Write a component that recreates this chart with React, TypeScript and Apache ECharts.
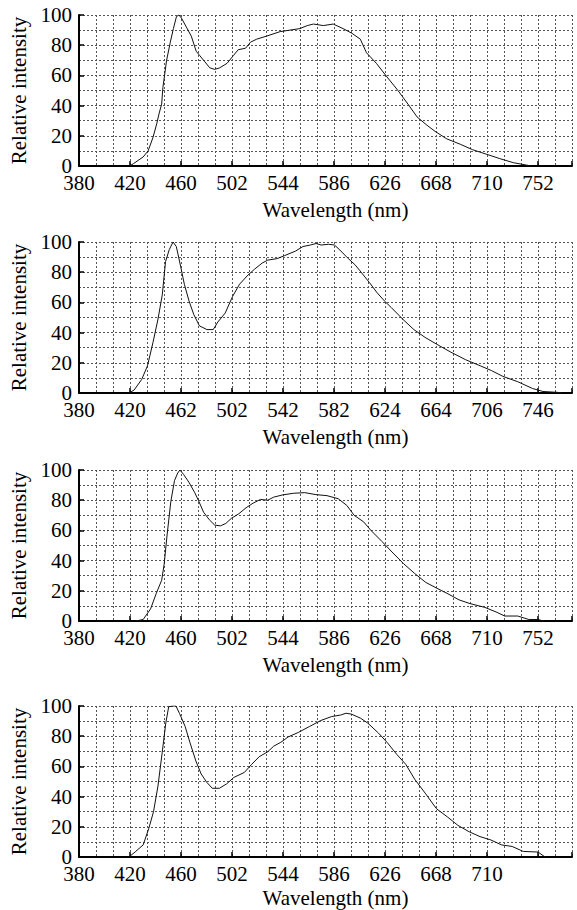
import { useEffect, useRef } from 'react';
import * as echarts from 'echarts';

// ---- Data ----
// Tick label texts on each panel's x axis (one label every 3 grid cells)
const xLabels1 = ['380', '420', '460', '502', '544', '586', '626', '668', '710', '752'];
const xLabels2 = ['380', '420', '462', '502', '542', '582', '624', '664', '706', '746'];
const xLabels3 = ['380', '420', '460', '502', '544', '586', '626', '668', '710', '752'];
const xLabels4 = ['380', '420', '460', '502', '544', '586', '626', '668', '710'];

// Wavelength that sits at the 10th label position (27 grid cells from 380)
const labelEnd = [752, 746, 752, 752];

// Spectra: [wavelength nm, relative intensity]
const spectrum1 = [
  [421, 0], [424, 1.5], [432, 6], [436, 10], [440, 19], [443, 28], [445, 35], [447, 41],
  [448, 52], [451, 70], [454, 82], [456.5, 91], [459, 99], [461, 100], [463, 98], [467, 92],
  [471, 86], [475, 76], [478, 73], [482, 69], [486, 65], [490, 64], [494, 65], [500, 68],
  [505, 73], [509, 77], [515, 78], [519, 82], [524, 84], [532, 86], [543, 89], [551, 90],
  [559, 91], [565, 93], [570, 94], [578, 93], [586, 94], [594, 91], [601, 88], [608, 84],
  [613, 75], [621, 68], [629.6, 59], [638.5, 50], [646.6, 41], [654, 32.5], [662, 27],
  [668.5, 23], [678, 18], [689, 14.4], [699, 10.8], [710.6, 7.7], [721, 4.9], [732, 2.2],
  [744, 0.4], [746, 0],
];

const spectrum2 = [
  [420, 0], [424, 2], [430, 9], [434.6, 18], [439, 33.5], [443, 49], [446.4, 65], [449, 87],
  [452, 95], [455, 100], [457.6, 97], [461, 84], [464, 72], [467.7, 61], [471.5, 52],
  [476, 44.5], [482, 42], [487, 42], [490.7, 47], [496.6, 53], [502.5, 64], [508, 72],
  [514, 77.5], [520, 82], [526, 86], [530.5, 88], [538, 89], [544, 91], [552.7, 94],
  [558.6, 97], [564.5, 98], [569, 99], [573, 98], [579, 98.5], [583.7, 98], [588, 94.7],
  [594, 89.6], [600, 85], [604, 81], [611.7, 73], [617.6, 66.5], [623.5, 61], [629, 56.6],
  [638, 49], [647, 42], [656, 36.8], [665, 32.4], [676.6, 27], [688.4, 22], [700, 18],
  [709, 14.8], [718, 11], [729.8, 7.5], [741.6, 3], [750, 1], [762, 0.4], [765, 0],
];

const spectrum3 = [
  [426, 0], [432, 1], [438, 8], [442.5, 18], [447, 27], [449, 37.5], [451.4, 57],
  [454.4, 79], [457.4, 93], [460, 98], [461.8, 100], [464.8, 97], [469, 92], [473.8, 85],
  [476.7, 80], [481, 72], [485.7, 67], [490, 63.5], [494.6, 63], [499, 64.6], [503.5, 68],
  [509.5, 71], [515.4, 75], [521, 78], [527, 80.5], [533, 80], [537.7, 82], [545, 83.5],
  [554, 84.6], [563, 85], [572, 83.7], [581, 83], [590, 81], [597, 76.6], [603, 70],
  [610.6, 65.7], [616.6, 60], [625.5, 52.7], [634.5, 45], [643, 38], [652, 31.5],
  [661, 25.6], [670, 21.7], [679, 18], [688, 14], [697, 11.5], [709, 9], [718, 6],
  [725, 3.3], [735.6, 3.3], [744.6, 1], [752, 1], [756.5, 0],
];

const spectrum4 = [
  [420.5, 0], [426, 3.7], [432, 8], [436.6, 19], [440.4, 30], [444, 47], [447.4, 69],
  [450.4, 89], [452.7, 99.5], [455.7, 100], [458.6, 100], [461.5, 95], [466, 86.5],
  [470, 75.6], [474.7, 63.6], [479, 55], [483.5, 49.5], [488, 45.5], [493.8, 45.5],
  [499.6, 48.4], [505.5, 52.7], [514, 56], [520, 61.4], [526, 66.4], [533, 69.7],
  [537.8, 73.4], [543.6, 76], [549.5, 79.5], [558, 82.6], [567, 86.5], [576, 90.4],
  [584.7, 93], [592, 94], [596.4, 95.2], [600.8, 94.6], [608, 92], [614, 88.7],
  [622.8, 82], [630, 75.6], [637.5, 68], [644.8, 61.4], [652, 51.6], [661, 41.8],
  [669.7, 32], [678.5, 26.6], [687, 21], [696, 16.8], [705, 13.5], [713.7, 11.3],
  [722.5, 8], [731, 7], [740, 3.7], [752, 3.3], [757.7, 0],
];

const xLabelSets = [xLabels1, xLabels2, xLabels3, xLabels4];
const spectra = [spectrum1, spectrum2, spectrum3, spectrum4];

// ---- Layout / style ----
const FONT = 'Liberation Serif';
const FS = 21;
const LH = 16;
const CELLS = 29; // grid cells across each plot
const LABEL_CELLS = 27; // cells between first and last label
const tops = [15, 242, 470, 706];
const PLOT_H = 151;
const gridLine = { color: '#555', width: 1, type: [2, 2] as number[] };

export default function App() {
  const ref = useRef<HTMLDivElement>(null);

  useEffect(() => {
    document.body.style.margin = '0';
    if (!ref.current) return;
    const chart = echarts.init(ref.current, undefined, { renderer: 'svg' });

    const grid: any[] = [];
    const xAxis: any[] = [];
    const yAxis: any[] = [];
    const series: any[] = [];

    tops.forEach((top, i) => {
      grid.push({ left: 79, right: 5, top, height: PLOT_H });
      const wMax = 380 + ((labelEnd[i] - 380) * CELLS) / LABEL_CELLS;
      const labels = xLabelSets[i];
      // wavelength axis (data scale)
      xAxis.push({ type: 'value', gridIndex: i, min: 380, max: wMax, show: false });
      // grid-cell axis (ticks, labels, dotted grid)
      xAxis.push({
        type: 'value',
        gridIndex: i,
        min: 0,
        max: CELLS,
        interval: 3,
        position: 'bottom',
        axisLine: { show: true, onZero: false, lineStyle: { color: '#000', width: 2 } },
        axisTick: { show: true, inside: true, length: 5, lineStyle: { color: '#000', width: 1.5 } },
        axisLabel: {
          margin: 9,
          fontSize: FS,
          lineHeight: LH,
          color: '#000',
          fontFamily: FONT,
          formatter: (v: number) => {
            const k = Math.round(v / 3);
            if (Math.abs(v - k * 3) > 1e-6) return '';
            return labels[k] ?? '';
          },
        },
        splitLine: { show: true, lineStyle: gridLine },
        minorTick: { show: false, splitNumber: 3 },
        minorSplitLine: { show: true, lineStyle: gridLine },
        name: 'Wavelength (nm)',
        nameLocation: 'middle',
        nameGap: i === 3 ? 30 : 33,
        nameTextStyle: { fontSize: FS, color: '#000', fontFamily: FONT, padding: [0, 0, 0, 20] },
      });
      yAxis.push({
        type: 'value',
        gridIndex: i,
        min: 0,
        max: 100,
        interval: 20,
        axisLine: { show: true, lineStyle: { color: '#000', width: 2 } },
        axisTick: { show: true, inside: true, length: 5, lineStyle: { color: '#000', width: 1.5 } },
        axisLabel: { margin: 7, fontSize: FS, lineHeight: LH, color: '#000', fontFamily: FONT },
        splitLine: { show: true, lineStyle: gridLine },
        minorTick: { show: false, splitNumber: 2 },
        minorSplitLine: { show: true, lineStyle: gridLine },
        name: 'Relative intensity',
        nameLocation: 'middle',
        nameRotate: 90,
        nameGap: 50,
        nameTextStyle: { fontSize: FS, color: '#000', fontFamily: FONT },
      });
      series.push({
        type: 'line',
        xAxisIndex: i * 2,
        yAxisIndex: i,
        data: spectra[i],
        showSymbol: false,
        symbol: 'none',
        lineStyle: { color: '#111', width: 1 },
        z: 5,
      });
    });

    chart.setOption({
      animation: false,
      backgroundColor: '#fff',
      textStyle: { fontFamily: FONT },
      grid,
      xAxis,
      yAxis,
      series,
    });
    return () => chart.dispose();
  }, []);

  return (
    <div
      ref={ref}
      style={{ position: 'absolute', left: 0, top: 0, width: 577, height: 910 }}
    />
  );
}
